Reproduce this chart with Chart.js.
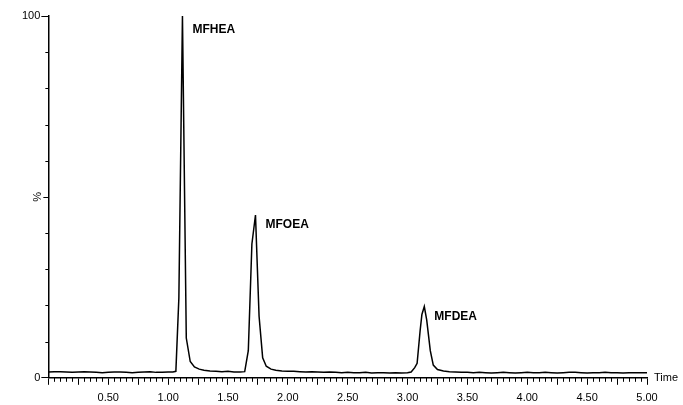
<!DOCTYPE html>
<html>
<head>
<meta charset="utf-8">
<style>
  html, body { margin: 0; padding: 0; background: #fff; }
  #wrap { width: 683px; height: 405px; position: relative; }
</style>
<script src="https://cdn.jsdelivr.net/npm/chart.js@4.4.1/dist/chart.umd.min.js"></script>
</head>
<body>
<div id="wrap"><canvas id="myChart"></canvas></div>
<script>
// retention time (min) and relative intensity (%)
const times = [
  0.00, 0.05, 0.10, 0.15, 0.20, 0.25, 0.30, 0.35, 0.40, 0.45,
  0.50, 0.55, 0.60, 0.65, 0.70, 0.75, 0.80, 0.85, 0.90, 0.95,
  1.00, 1.04, 1.065, 1.09, 1.12, 1.152, 1.185, 1.22, 1.26, 1.30,
  1.35, 1.40, 1.45, 1.50, 1.55, 1.60, 1.64, 1.67, 1.70, 1.73,
  1.76, 1.79, 1.82, 1.86, 1.90, 1.95, 2.00, 2.05, 2.10, 2.15,
  2.20, 2.25, 2.30, 2.35, 2.40, 2.45, 2.50, 2.55, 2.60, 2.65,
  2.70, 2.75, 2.80, 2.85, 2.90, 2.95, 3.00, 3.03, 3.06, 3.08,
  3.105, 3.12, 3.14, 3.16, 3.19, 3.215, 3.25, 3.30, 3.35, 3.40,
  3.45, 3.50, 3.55, 3.60, 3.65, 3.70, 3.75, 3.80, 3.85, 3.90,
  3.95, 4.00, 4.05, 4.10, 4.15, 4.20, 4.25, 4.30, 4.35, 4.40,
  4.45, 4.50, 4.55, 4.60, 4.65, 4.70, 4.75, 4.80, 4.85, 4.90,
  4.95, 5.00
];
const intensity = [
  1.6, 1.7, 1.7, 1.6, 1.5, 1.6, 1.7, 1.6, 1.5, 1.4,
  1.5, 1.6, 1.6, 1.5, 1.4, 1.5, 1.6, 1.7, 1.5, 1.5,
  1.6, 1.6, 1.8, 22, 100, 11, 4.5, 3.0, 2.4, 2.1,
  1.9, 1.8, 1.7, 1.8, 1.6, 1.6, 1.7, 7.5, 37, 45,
  17, 5.5, 3.2, 2.4, 2.1, 1.9, 1.8, 1.8, 1.7, 1.6,
  1.7, 1.6, 1.5, 1.6, 1.5, 1.4, 1.5, 1.4, 1.4, 1.5,
  1.3, 1.4, 1.4, 1.3, 1.4, 1.3, 1.4, 1.6, 2.8, 4.0,
  13, 17.5, 19.7, 16, 7.5, 3.5, 2.3, 1.9, 1.7, 1.6,
  1.5, 1.5, 1.4, 1.5, 1.4, 1.3, 1.4, 1.5, 1.4, 1.3,
  1.4, 1.5, 1.4, 1.4, 1.5, 1.4, 1.3, 1.4, 1.5, 1.5,
  1.4, 1.3, 1.4, 1.4, 1.5, 1.4, 1.4, 1.3, 1.4, 1.4,
  1.4, 1.4
];
const peakNames = ['MFHEA', 'MFOEA', 'MFDEA'];
const peakTimes = [1.12, 1.73, 3.14];

const xLabels = ['0.50', '1.00', '1.50', '2.00', '2.50', '3.00', '3.50', '4.00', '4.50', '5.00'];
const yLabels = ['0', '100'];

Chart.defaults.font.family = 'Arial, "Liberation Sans", sans-serif';
Chart.defaults.font.size = 11;
Chart.defaults.color = '#000';

const onStep = (v, step) => Math.abs(v / step - Math.round(v / step)) < 1e-6;

// minor tick marks, axis captions and peak names
const extras = {
  id: 'extras',
  afterDraw(chart) {
    const { ctx, chartArea, scales: { x, y } } = chart;
    ctx.save();
    ctx.strokeStyle = '#000';
    ctx.lineWidth = 1;
    ctx.beginPath();
    x.ticks.forEach(t => {
      if (!onStep(t.value, 0.25)) {
        const px = Math.round(x.getPixelForValue(t.value)) + 0.5;
        ctx.moveTo(px, chartArea.bottom);
        ctx.lineTo(px, chartArea.bottom + 4);
      }
    });
    y.ticks.forEach(t => {
      if (t.value !== 0 && t.value !== 100) {
        const py = Math.round(y.getPixelForValue(t.value)) + 0.5;
        const len = t.value === 50 ? 5 : 3;
        ctx.moveTo(chartArea.left, py);
        ctx.lineTo(chartArea.left - len, py);
      }
    });
    ctx.stroke();

    ctx.fillStyle = '#000';
    ctx.font = '11px Arial, "Liberation Sans", sans-serif';
    ctx.textBaseline = 'middle';
    ctx.textAlign = 'left';
    ctx.fillText('Time', chartArea.right + 7, chartArea.bottom);

    ctx.save();
    ctx.translate(chartArea.left - 10, y.getPixelForValue(50));
    ctx.rotate(-Math.PI / 2);
    ctx.textAlign = 'center';
    ctx.fillText('%', 0, 0);
    ctx.restore();

    ctx.font = 'bold 12px Arial, "Liberation Sans", sans-serif';
    ctx.textAlign = 'left';
    peakNames.forEach((name, i) => {
      const k = times.indexOf(peakTimes[i]);
      const px = x.getPixelForValue(times[k]);
      const py = y.getPixelForValue(intensity[k]);
      ctx.fillText(name, px + 10, Math.max(py + 10, chartArea.top + 14));
    });
    ctx.restore();
  }
};

new Chart(document.getElementById('myChart'), {
  type: 'line',
  data: {
    datasets: [{
      data: times.map((t, i) => ({ x: t, y: intensity[i] })),
      borderColor: '#000',
      borderWidth: 1.5,
      pointRadius: 0,
      tension: 0,
      fill: false
    }]
  },
  options: {
    responsive: true,
    maintainAspectRatio: false,
    animation: false,
    layout: { padding: { left: 21, right: 36, top: 16, bottom: -7 } },
    plugins: { legend: { display: false }, tooltip: { enabled: false } },
    scales: {
      x: {
        type: 'linear',
        min: 0,
        max: 5,
        grid: {
          drawOnChartArea: false,
          tickLength: 7,
          tickColor: c => onStep(c.tick.value, 0.25) ? '#000' : 'rgba(0,0,0,0)'
        },
        border: { display: true, color: '#000', width: 1.5 },
        ticks: {
          stepSize: 0.05,
          autoSkip: false,
          maxRotation: 0,
          padding: 7,
          callback: v => xLabels.find(l => Math.abs(parseFloat(l) - v) < 1e-6) || ''
        }
      },
      y: {
        min: 0,
        max: 100,
        grid: {
          drawOnChartArea: false,
          tickLength: 7,
          tickColor: c => (c.tick.value === 0 || c.tick.value === 100) ? '#000' : 'rgba(0,0,0,0)'
        },
        border: { display: true, color: '#000', width: 1.5 },
        ticks: {
          stepSize: 10,
          autoSkip: false,
          padding: 1,
          callback: v => yLabels.includes(String(v)) ? String(v) : ''
        }
      }
    }
  },
  plugins: [extras]
});
</script>
</body>
</html>
